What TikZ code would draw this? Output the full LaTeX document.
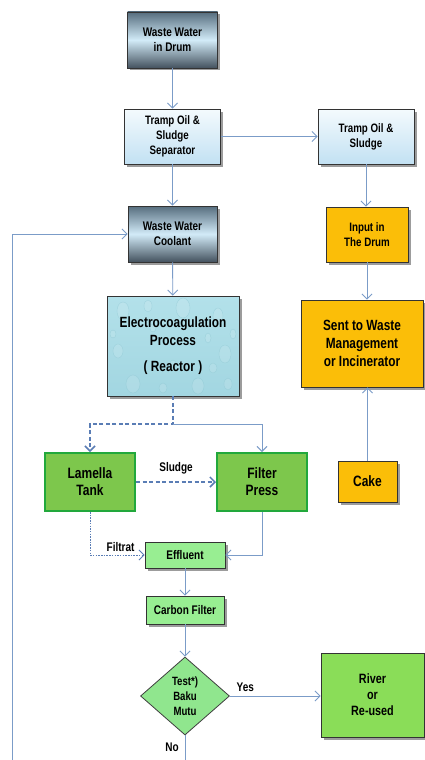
\documentclass[tikz,border=0pt]{standalone}
\usepackage{fontspec}
\setmainfont[FakeStretch=0.8]{Liberation Sans}
\usetikzlibrary{arrows.meta,shapes.geometric,shadows}

\definecolor{flow}{HTML}{7B9CC8}
\definecolor{flowdark}{HTML}{5A7DB5}
\definecolor{steeltop}{HTML}{566D7E}
\definecolor{steelmid}{HTML}{D2EBF8}
\definecolor{steelbot}{HTML}{44525E}
\definecolor{palebluetop}{HTML}{F4FAFD}
\definecolor{palebluebot}{HTML}{C2E1F3}
\definecolor{gold}{HTML}{FBBE08}
\definecolor{leaf}{HTML}{7DC74C}
\definecolor{leafedge}{HTML}{22A83C}
\definecolor{mint}{HTML}{98EE92}
\definecolor{mintdiamond}{HTML}{90E68E}
\definecolor{grass}{HTML}{8ADD58}
\definecolor{water}{HTML}{B3E1EA}
\definecolor{waterdark}{HTML}{A2D6E1}
\definecolor{drop}{HTML}{86C3CF}
\definecolor{ink}{HTML}{1C1C1C}

\begin{document}
\begin{tikzpicture}[x=1pt,y=-1pt,
  font=\bfseries\color{ink},
  base/.style={draw=black!80, line width=0.8pt, align=center, inner sep=2pt,
    drop shadow={shadow xshift=2.5pt, shadow yshift=-2.5pt, fill=black!55, opacity=0.7}},
  steelbox/.style={base, top color=steeltop, bottom color=steelbot, middle color=steelmid,
    font=\bfseries\fontsize{12.5}{14.5}\selectfont},
  palebox/.style={base, top color=palebluetop, bottom color=palebluebot,
    font=\bfseries\fontsize{12.2}{15}\selectfont},
  goldbox/.style={base, fill=gold},
  leafbox/.style={draw=leafedge, line width=2pt, fill=leaf, align=center,
    font=\bfseries\fontsize{15}{17}\selectfont},
  mintbox/.style={base, fill=mint, font=\bfseries\fontsize{12.5}{14}\selectfont},
  waterbox/.style={base, top color=water, bottom color=waterdark,
    font=\bfseries\fontsize{14.8}{18}\selectfont},
  decision/.style={diamond, draw=black!75, line width=0.8pt, fill=mintdiamond,
    inner sep=0pt, align=center, font=\bfseries\fontsize{12}{15}\selectfont},
  flowline/.style={draw=flow, line width=0.9pt},
  arrow/.style={flowline, -{Straight Barb[length=5pt,width=10pt]}},
  dasharrow/.style={draw=flowdark, line width=1.5pt, dashed, dash pattern=on 4pt off 2.5pt,
    -{Straight Barb[length=5pt,width=10pt,line width=1.5pt]}},
  dotarrow/.style={draw=flowdark, line width=0.8pt, dash pattern=on 1.5pt off 1.2pt,
    -{Straight Barb[length=5pt,width=10pt,line width=0.9pt]}},
  tag/.style={font=\bfseries\fontsize{12.5}{14}\selectfont, inner sep=0pt}
]
\useasboundingbox[fill=white] (0,0) rectangle (425,760);

% main line
\node[steelbox, minimum width=90pt, minimum height=56pt] (drum) at (172.5,40)
  {Waste Water\\in Drum};
\node[palebox, minimum width=96pt, minimum height=55pt] (sep) at (172.5,136.5)
  {Tramp Oil \&\\Sludge\\Separator};
\node[palebox, minimum width=96pt, minimum height=55pt] (tramp) at (366,136.5)
  {Tramp Oil \&\\Sludge};
\node[steelbox, minimum width=89pt, minimum height=56pt] (cool) at (172.5,234)
  {Waste Water\\Coolant};
\node[goldbox, minimum width=82pt, minimum height=55pt,
  font=\bfseries\fontsize{12.2}{15}\selectfont] (input) at (367,234.5)
  {Input in\\The Drum};

% reactor with a faint water-drop texture
\node[waterbox, minimum width=132pt, minimum height=100pt,
  path picture={
    \foreach \dx/\dy/\rx/\ry in {-50/-35/6/9, -25/-40/4/6, 10/-38/7/10, 45/-30/5/8,
      -55/5/5/7, 52/8/6/9, -40/38/7/9, -10/42/4/5, 25/40/6/8, 55/38/4/6,
      -20/-18/3/4, 35/-8/3/5, 0/18/3/4, -60/-12/3/4, 60/-12/3/5, 40/22/4/5}
      \draw[drop, line width=0.4pt, fill=white, fill opacity=0.12, draw opacity=0.45]
        ([shift={(\dx pt,-\dy pt)}]path picture bounding box.center) ellipse (\rx pt and \ry pt);
  }] (elec) at (173,346)
  {Electrocoagulation\\Process\\[8pt]( Reactor )};

\node[goldbox, minimum width=122pt, minimum height=87pt,
  font=\bfseries\fontsize{14.8}{18}\selectfont] (sent) at (362,343.5)
  {Sent to Waste\\Management\\or Incinerator};

\node[leafbox, minimum width=90pt, minimum height=58pt] (lam) at (90,482)
  {Lamella\\Tank};
\node[leafbox, minimum width=90pt, minimum height=58pt] (fp) at (262,482)
  {Filter\\Press};
\node[goldbox, minimum width=59pt, minimum height=41pt,
  font=\bfseries\fontsize{15}{17}\selectfont] (cake) at (367.5,481.5) {Cake};

\node[mintbox, minimum width=80pt, minimum height=26pt] (eff) at (185,555) {Effluent};
\node[mintbox, minimum width=78pt, minimum height=28pt] (carb) at (185,610) {Carbon Filter};
\node[decision, minimum width=89pt, minimum height=78pt] (dec) at (185,696)
  {Test*)\\Baku\\Mutu};
\node[base, fill=grass, minimum width=103pt, minimum height=84pt,
  font=\bfseries\fontsize{13.5}{16}\selectfont] (river) at (372.5,695)
  {River\\or\\Re-used};

% connectors
\draw[arrow] (drum) -- (sep);
\draw[arrow] (sep) -- (tramp);
\draw[arrow] (sep) -- (cool);
\draw[arrow] (tramp.south) -- (tramp.south |- input.north);
\draw[arrow] (input.south) -- (input.south |- sent.north);
\draw[arrow] (cool) -- (elec);
\draw[arrow] (cake.north) -- (cake.north |- sent.south);

\coordinate (split) at (173,424);
\draw[dasharrow] (elec.south) -- (split) -| (lam.north);
\draw[arrow] (split) -| (fp.north);

\draw[dasharrow] (lam) -- (fp) node[tag, midway, above=7pt] {Sludge};
\draw[dotarrow] (lam.south) |- (eff.west) node[tag, pos=0.78, above=3pt] {Filtrat};
\draw[arrow] (fp.south) |- (eff.east);
\draw[arrow] (eff) -- (carb);
\draw[arrow] (carb) -- (dec);
\draw[arrow] (dec.east) -- (dec.east -| river.west) node[tag, pos=0.17, above=4pt] {Yes};

% rejected water goes back to the coolant tank
\coordinate (loop) at (12,775);
\draw[arrow] (dec.south) |- (loop) |- (cool.west);
\node[tag, anchor=north east] (no) at ([shift={(-6pt,-7pt)}]dec.south) {No};
\end{tikzpicture}
\end{document}
